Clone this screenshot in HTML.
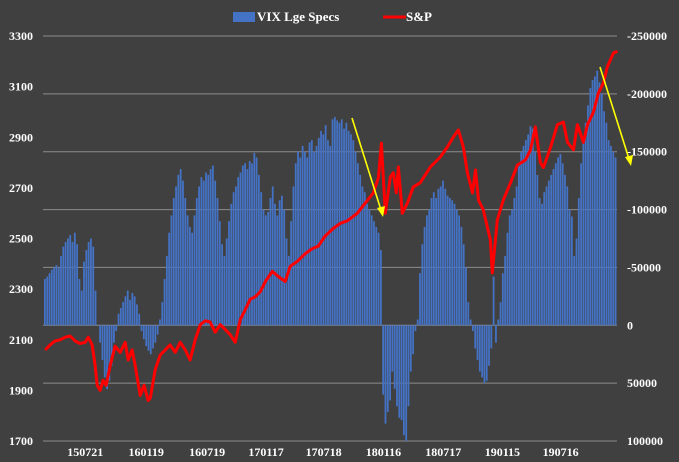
<!DOCTYPE html>
<html><head><meta charset="utf-8"><style>
html,body{margin:0;padding:0;background:#404040;}
svg{display:block;font-family:"Liberation Serif",serif;font-weight:bold;}
</style></head><body>
<svg id="chart" width="679" height="462" xmlns="http://www.w3.org/2000/svg">
<rect x="0" y="0" width="679" height="462" fill="#404040"/>
<g id="grid"></g>
<g id="bars"></g>
<g id="line"></g>
<g id="axes"></g>
<g>
<rect x="233" y="12" width="22" height="10" fill="#4472C4"/>
<text x="257" y="21" fill="#fff" font-size="13">VIX Lge Specs</text>
<line x1="383" y1="17" x2="406" y2="17" stroke="#f00" stroke-width="3"/>
<text x="406" y="21" fill="#fff" font-size="13">S&amp;P</text>
</g>
<g>
<line x1="352" y1="118" x2="381" y2="210" stroke="#ff0" stroke-width="1.6"/>
<polygon points="383,217 377,208 385,206" fill="#ff0"/>
<line x1="600" y1="67" x2="629" y2="159" stroke="#ff0" stroke-width="1.6"/>
<polygon points="631,166 625,157 633,155" fill="#ff0"/>
</g>
</svg>
<script>
const specs = [-40,-42,-45,-48,-50,-52,-50,
-60,-68,-72,-75,-78,-72,-80,
-70,-40,-30,
-55,-65,-72,-75,-68,
-30,0,
15,30,45,55,48,35,
15,5,
-10,-15,-20,-25,-30,-22,-28,-25,-18,
-10,5,12,18,22,25,20,15,8,
-5,-20,-40,
-60,-80,-95,-110,-120,-130,
-135,-125,-110,-95,-85,-80,
-95,-110,-120,-128,
-125,-132,-130,-135,-138,
-125,-110,-90,-70,-60,
-75,-90,-105,-115,-120,
-128,-132,-138,-140,-135,-142,-140,
-149,-145,-130,-115,-100,
-95,-98,-110,-120,
-105,-95,-108,-112,
-100,-75,-60,-90,-120,
-140,-150,-145,-155,-150,-145,-158,-160,
-150,-155,-162,-168,-165,-173,
-160,-155,
-178,-180,-177,-175,-178,-170,-175,-168,-165,
-160,-150,-140,-130,-120,-115,-105,-100,-95,-90,
-85,-80,-65,
60,85,75,65,40,55,
70,80,82,95,100,70,
40,25,5,
-5,-45,-70,-85,-95,-100,
-110,-115,-110,-118,-120,
-125,-118,-112,-110,-108,
-105,-100,-95,-85,
-70,-50,-20,-5,
5,20,30,40,45,50,
48,35,20,
-42,
15,-5,
-20,-45,-60,-80,-95,
-100,-110,-120,-140,-150,
-155,-160,-165,-172,
-170,-150,
-130,-110,-105,
-115,-120,-125,-130,-135,-140,-145,
-148,-140,-130,
-120,-100,-94,
-60,-75,
-110,-140,-160,-175,-190,-205,-212,
-215,-220,-210,-200,
-185,-175,-160,-155,-150,-145];
const spWeeks = [0,2.2,4.3,6.5,8.7,10.9,13,15.2,17.4,18.7,20.4,21.7,22.6,23.9,25.2,26.5,28.3,30.4,32.6,34.8,36.1,37.8,39.1,41.3,43,44.8,45.7,47.8,50,52.2,54.3,56.5,58.7,60.9,63,65.2,67.4,69.6,71.7,73.9,76.1,78.3,80.4,82.6,84.8,87,89.1,91.3,93.5,95.7,98.7,101.3,104.3,106.5,109.6,113,116.1,118.7,121.7,125.2,128.3,131.3,135.7,139.1,142.6,144.8,146.1,147.8,150,151.3,152.6,153.5,155.2,157.4,160,163,167.4,171.7,174.8,177.4,179.6,181.7,183.5,185.7,187,188.3,190.4,193.5,194.3,196.5,199.1,202.2,205.2,208.7,210.9,213,215.2,216.5,219.6,222.6,225.2,227,229.6,231.3,233.9,235.7,238.3,240.4,242.6,244.3,247,248.7];
const spValues = [2060,2080,2095,2100,2110,2115,2095,2085,2090,2110,2080,2000,1920,1900,1940,1920,2000,2075,2050,2090,2020,2060,2000,1880,1920,1860,1870,1980,2040,2060,2080,2050,2090,2060,2020,2100,2160,2175,2170,2130,2160,2140,2120,2090,2180,2220,2260,2270,2290,2330,2370,2350,2330,2390,2410,2440,2460,2470,2510,2540,2560,2570,2600,2640,2680,2740,2877,2600,2743,2760,2680,2783,2600,2640,2704,2720,2783,2822,2862,2901,2929,2862,2760,2680,2771,2652,2613,2494,2364,2573,2652,2720,2790,2810,2850,2941,2800,2780,2860,2950,2960,2880,2850,2950,2880,2950,3000,3075,3114,3178,3233,3240];
const leftTicks = [1700,1900,2100,2300,2500,2700,2900,3100,3300];
const rightTicks = [100000,50000,0,-50000,-100000,-150000,-200000,-250000];
const xLabels = ["150721","160119","160719","170117","170718","180116","180717","190115","190716"];
const xLabelWeeks = [17.4,43.9,70.4,96,121,147,173,198.7,224];

const NS="http://www.w3.org/2000/svg";
const X0=44, X1=617, TOP=36, BOT=441;
const step=(X1-X0)/specs.length;
function xw(w){return X0+step*w+step/2;}
function yL(v){return BOT-(v-1700)*(BOT-TOP)/1600;}
function yR(v){return TOP+(v+250000)*(BOT-TOP)/350000;}
function mk(tag,attrs,parent){const e=document.createElementNS(NS,tag);for(const k in attrs)e.setAttribute(k,attrs[k]);parent.appendChild(e);return e;}

const grid=document.getElementById('grid');
rightTicks.forEach(t=>{
  const l=mk('line',{x1:X0-1,x2:X1,y1:yR(t),y2:yR(t),stroke:'#8c8c8c','stroke-width':1},grid);
  
  
});
const axes=document.getElementById('axes');
leftTicks.forEach(t=>{
  const e=mk('text',{x:33,y:yL(t)+4,fill:'#fff','font-size':12,'text-anchor':'end'},axes);
  e.textContent=t;
  
  
});
rightTicks.forEach(t=>{
  const e=mk('text',{x:627,y:yR(t)+4,fill:'#fff','font-size':12},axes);
  e.textContent=(t<0?'-':'')+Math.abs(t);
  
  
});
xLabels.forEach((s,i)=>{
  const e=mk('text',{x:xw(xLabelWeeks[i]),y:456,fill:'#fff','font-size':12,'text-anchor':'middle'},axes);
  e.textContent=s;
  
  
});
const bars=document.getElementById('bars');
const y0=yR(0);
specs.forEach((v,i)=>{
  const y=yR(v*1000);
  const r=mk('rect',{x:X0+step*i,y:Math.min(y,y0),width:step*0.78,height:Math.abs(y-y0),fill:'#4472C4'},bars);
  
  
});
const pts=spWeeks.map((w,i)=>xw(w).toFixed(1)+','+yL(spValues[i]).toFixed(1)).join(' ');
const pl=mk('polyline',{points:pts,fill:'none',stroke:'#ff0000','stroke-width':3,'stroke-linejoin':'round'},document.getElementById('line'));


</script>
</body></html>
